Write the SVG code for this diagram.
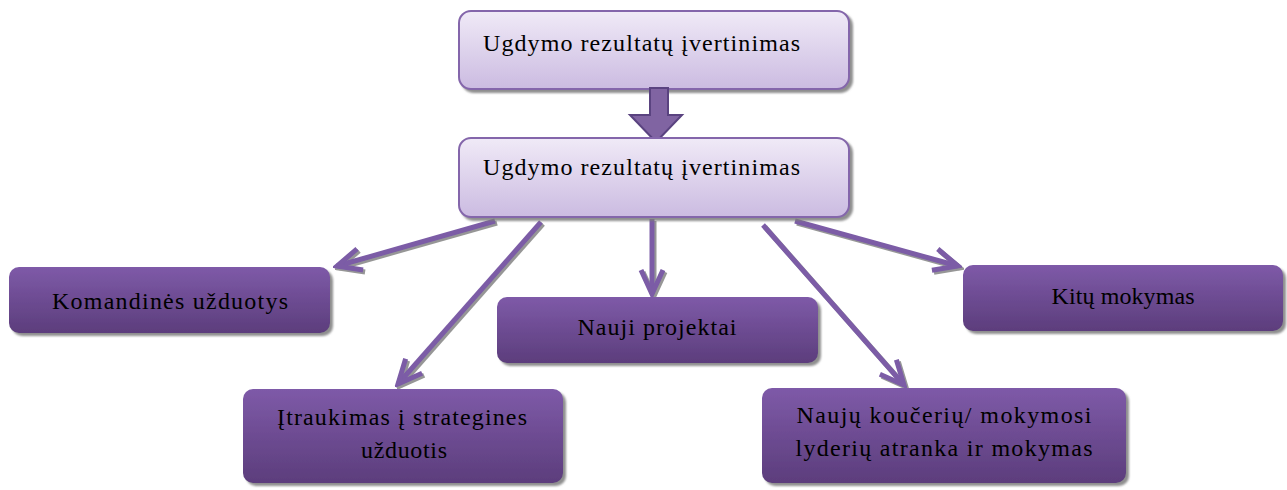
<svg xmlns="http://www.w3.org/2000/svg" width="1287" height="490" viewBox="0 0 1287 490">
  <defs>
    <linearGradient id="lightFill" x1="0" y1="0" x2="0" y2="1">
      <stop offset="0" stop-color="#f0eaf7"/>
      <stop offset="1" stop-color="#cbbbe1"/>
    </linearGradient>
    <linearGradient id="darkFill" x1="0" y1="0" x2="0" y2="1">
      <stop offset="0" stop-color="#7e5aa8"/>
      <stop offset="1" stop-color="#5c3d7c"/>
    </linearGradient>
    <filter id="shadow" x="-10%" y="-10%" width="120%" height="130%">
      <feDropShadow dx="3" dy="3" stdDeviation="0.8" flood-color="#7a7a7a" flood-opacity="0.85"/>
    </filter>
    <filter id="lineShadow" x="-10%" y="-10%" width="120%" height="120%">
      <feDropShadow dx="2" dy="2" stdDeviation="0.6" flood-color="#8a8a8a" flood-opacity="0.9"/>
    </filter>
    <marker id="chevron" viewBox="-30 -15 34 30" refX="0" refY="0" markerWidth="34" markerHeight="30" markerUnits="userSpaceOnUse" orient="auto">
      <path d="M-24,-11 L0,0 L-24,11" fill="none" stroke="#7b5ca6" stroke-width="5" stroke-linejoin="miter" stroke-miterlimit="6"/>
    </marker>
  </defs>
  <style>
    .light { fill: url(#lightFill); stroke: #8466ab; stroke-width: 2; filter: url(#shadow); }
    .dark { fill: url(#darkFill); filter: url(#shadow); }
    .t { font-family: "Liberation Serif", "Times New Roman", "DejaVu Serif", serif; font-size: 24px; fill: #000; }
    .mid { text-anchor: middle; }
    .conn { stroke: #7b5ca6; stroke-width: 5; fill: none; marker-end: url(#chevron); }
  </style>

  <rect width="1287" height="490" fill="#ffffff"/>

  <!-- connectors -->
  <g id="connectors" filter="url(#lineShadow)">
    <line class="conn" x1="495" y1="221" x2="337" y2="266"/>
    <line class="conn" x1="541" y1="222" x2="398" y2="384"/>
    <line class="conn" x1="652" y1="219" x2="652" y2="294"/>
    <line class="conn" x1="763" y1="225" x2="904" y2="385"/>
    <line class="conn" x1="795" y1="221" x2="958" y2="266"/>
  </g>

  <!-- top node -->
  <g id="node-top">
    <rect class="light" x="459" y="11" width="390" height="78" rx="12"/>
    <text class="t" x="483" y="51" textLength="317" lengthAdjust="spacing">Ugdymo rezultatų įvertinimas</text>
  </g>

  <!-- block arrow between the two upper nodes -->
  <g id="block-arrow">
    <path d="M650,88 L668,88 L668,115 L682,115 L656,142 L630,115 L650,115 Z" fill="#8064a2" stroke="#5a4380" stroke-width="2" stroke-linejoin="miter"/>
  </g>

  <!-- second node -->
  <g id="node-second">
    <rect class="light" x="459" y="138" width="390" height="79" rx="12"/>
    <text class="t" x="483" y="175" textLength="317" lengthAdjust="spacing">Ugdymo rezultatų įvertinimas</text>
  </g>

  <g id="node-komandines">
    <rect class="dark" x="9" y="267" width="321" height="66" rx="10"/>
    <text class="t mid" x="170" y="309" textLength="236" lengthAdjust="spacing">Komandinės užduotys</text>
  </g>

  <g id="node-nauji-projektai">
    <rect class="dark" x="497" y="297" width="321" height="66" rx="10"/>
    <text class="t mid" x="657" y="335" textLength="159" lengthAdjust="spacing">Nauji projektai</text>
  </g>

  <g id="node-kitu-mokymas">
    <rect class="dark" x="963" y="265" width="320" height="66" rx="10"/>
    <text class="t mid" x="1123" y="304" textLength="143" lengthAdjust="spacing">Kitų mokymas</text>
  </g>

  <g id="node-itraukimas">
    <rect class="dark" x="243" y="389" width="320" height="94" rx="10"/>
    <text class="t mid" x="402" y="425" textLength="250" lengthAdjust="spacing">Įtraukimas į strategines</text>
    <text class="t mid" x="404" y="458" textLength="86" lengthAdjust="spacing">užduotis</text>
  </g>

  <g id="node-nauju-kouceriu">
    <rect class="dark" x="762" y="388" width="364" height="95" rx="10"/>
    <text class="t mid" x="944" y="423" textLength="295" lengthAdjust="spacing">Naujų koučerių/ mokymosi</text>
    <text class="t mid" x="944" y="456" textLength="297" lengthAdjust="spacing">lyderių atranka ir mokymas</text>
  </g>
</svg>
